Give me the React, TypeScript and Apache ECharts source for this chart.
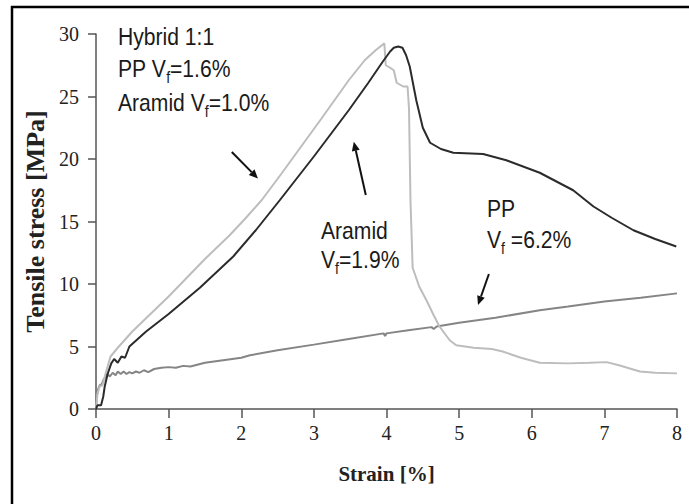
import React, { useEffect, useRef } from "react";
import * as echarts from "echarts";

// Hybrid 1:1 (light grey curve)
const hybridX = [0, 0.02, 0.05, 0.09, 0.14, 0.2, 0.3, 0.5, 0.75, 1.0, 1.25, 1.5, 1.84, 2.05, 2.28, 2.55, 2.8, 3.1, 3.48, 3.7, 3.85, 3.97, 3.99, 4.05, 4.1, 4.14, 4.23, 4.29, 4.31, 4.33, 4.36, 4.45, 4.55, 4.65, 4.73, 4.87, 4.96, 5.2, 5.45, 5.6, 5.85, 6.11, 6.5, 6.8, 7.03, 7.2, 7.49, 7.7, 8.0];
const hybridY = [0, 1.2, 1.8, 1.9, 3.0, 4.2, 4.9, 6.2, 7.6, 9.0, 10.5, 12.0, 13.9, 15.2, 16.7, 18.8, 20.8, 23.2, 26.3, 27.9, 28.7, 29.25, 27.5, 27.3, 27.1, 26.1, 25.8, 25.8, 24.0, 16.7, 11.3, 9.8, 8.7, 7.5, 6.6, 5.5, 5.1, 4.9, 4.8, 4.6, 4.1, 3.7, 3.65, 3.7, 3.75, 3.5, 3.0, 2.9, 2.85];

// Aramid Vf=1.9% (dark curve)
const aramidX = [0, 0.02, 0.07, 0.1, 0.12, 0.16, 0.21, 0.25, 0.3, 0.35, 0.4, 0.46, 0.69, 1.0, 1.43, 1.89, 2.2, 2.53, 3.0, 3.48, 3.75, 3.95, 4.05, 4.1, 4.16, 4.22, 4.27, 4.32, 4.41, 4.5, 4.6, 4.75, 4.92, 5.33, 5.65, 6.11, 6.57, 6.85, 7.1, 7.4, 7.7, 7.99];
const aramidY = [0, 0.3, 0.3, 1.0, 1.8, 2.8, 3.65, 4.0, 3.7, 4.2, 4.1, 5.0, 6.2, 7.6, 9.7, 12.2, 14.3, 16.7, 20.2, 23.9, 26.1, 27.8, 28.6, 28.9, 29.0, 28.9, 28.3, 27.4, 24.7, 22.5, 21.3, 20.8, 20.5, 20.4, 19.9, 18.9, 17.5, 16.2, 15.3, 14.3, 13.6, 13.0];

// PP Vf=6.2% (medium grey curve)
const ppX = [0, 0.01, 0.03, 0.05, 0.08, 0.1, 0.13, 0.16, 0.19, 0.23, 0.27, 0.3, 0.34, 0.38, 0.42, 0.46, 0.5, 0.55, 0.6, 0.66, 0.72, 0.8, 0.9, 1.0, 1.1, 1.2, 1.3, 1.5, 1.75, 2.0, 2.12, 2.5, 3.0, 3.48, 3.96, 3.98, 4.0, 4.3, 4.62, 4.65, 4.69, 5.0, 5.5, 6.11, 6.5, 7.0, 7.5, 8.0];
const ppY = [0, 1.0, 1.6, 1.9, 2.0, 2.3, 2.6, 2.8, 2.6, 2.9, 2.7, 3.0, 2.8, 3.0, 2.8, 2.95, 2.85, 3.0, 2.9, 3.1, 2.95, 3.2, 3.3, 3.35, 3.3, 3.45, 3.4, 3.7, 3.9, 4.1, 4.3, 4.7, 5.15, 5.6, 6.05, 5.85, 6.05, 6.3, 6.55, 6.4, 6.6, 6.9, 7.3, 7.9, 8.2, 8.6, 8.9, 9.25];

// Arrow annotations in data coordinates
const arrows = [
  { from: [1.87, 20.56], to: [2.23, 18.44] },
  { from: [3.715, 17.12], to: [3.55, 21.38] },
  { from: [5.41, 10.8], to: [5.26, 8.32] },
];

type Part = [string, "n" | "s"];
const labels: { x: number; base: number; parts: Part[] }[] = [
  { x: 118, base: 45, parts: [["Hybrid 1:1", "n"]] },
  { x: 118, base: 77, parts: [["PP V", "n"], ["f", "s"], ["=1.6%", "n"]] },
  { x: 118, base: 111, parts: [["Aramid V", "n"], ["f", "s"], ["=1.0%", "n"]] },
  { x: 321, base: 239, parts: [["Aramid", "n"]] },
  { x: 321, base: 268, parts: [["V", "n"], ["f", "s"], ["=1.9%", "n"]] },
  { x: 487, base: 217, parts: [["PP", "n"]] },
  { x: 487, base: 248, parts: [["V", "n"], ["f", "s"], [" =6.2%", "n"]] },
];

const SANS = '"Liberation Sans", Arial, sans-serif';
const SERIF = '"Liberation Serif", "Times New Roman", serif';

function zip(xs: number[], ys: number[]) {
  return xs.map((x, i) => [x, ys[i]]);
}

export default function App() {
  const ref = useRef<HTMLDivElement>(null);
  useEffect(() => {
    const el = ref.current!;
    const chart = echarts.init(el, null, { renderer: "svg" });
    chart.setOption({
      animation: false,
      backgroundColor: "#ffffff",
      grid: { left: 96, right: 12, top: 34, bottom: 95 },
      xAxis: {
        type: "value",
        min: 0,
        max: 8,
        interval: 1,
        name: "Strain [%]",
        nameLocation: "middle",
        nameGap: 54,
        nameTextStyle: { fontFamily: SERIF, fontWeight: "bold", fontSize: 21, color: "#222" },
        axisLine: { lineStyle: { color: "#555", width: 1.5 } },
        axisTick: { length: 9, lineStyle: { color: "#555", width: 1.5 } },
        axisLabel: { margin: 14, fontFamily: SERIF, fontSize: 20, color: "#222" },
        splitLine: { show: false },
      },
      yAxis: {
        type: "value",
        min: 0,
        max: 30,
        interval: 5,
        name: "Tensile stress [MPa]",
        nameLocation: "middle",
        nameGap: 48,
        nameTextStyle: { fontFamily: SERIF, fontWeight: "bold", fontSize: 26, color: "#222" },
        axisLine: { show: true, lineStyle: { color: "#555", width: 1.5 } },
        axisTick: { show: true, length: 8, lineStyle: { color: "#555", width: 1.5 } },
        axisLabel: { margin: 17, fontFamily: SERIF, fontSize: 20, color: "#222" },
        splitLine: { show: false },
      },
      series: [
        { type: "line", data: zip(ppX, ppY), showSymbol: false, symbol: "none", lineStyle: { color: "#858585", width: 2 }, z: 2 },
        { type: "line", data: zip(hybridX, hybridY), showSymbol: false, symbol: "none", lineStyle: { color: "#bdbdbd", width: 2 }, z: 3 },
        { type: "line", data: zip(aramidX, aramidY), showSymbol: false, symbol: "none", lineStyle: { color: "#2b2b2b", width: 2 }, z: 4 },
      ],
    });

    const graphics: any[] = [];
    // outer frame (top and left edges)
    graphics.push({ type: "line", shape: { x1: 11, y1: 7, x2: 689, y2: 7 }, style: { stroke: "#000", lineWidth: 2.5 } });
    graphics.push({ type: "line", shape: { x1: 12, y1: 6, x2: 12, y2: 504 }, style: { stroke: "#000", lineWidth: 2.5 } });

    arrows.forEach((a) => {
      const p0 = chart.convertToPixel({ gridIndex: 0 }, a.from) as number[];
      const p1 = chart.convertToPixel({ gridIndex: 0 }, a.to) as number[];
      const dx = p1[0] - p0[0];
      const dy = p1[1] - p0[1];
      const len = Math.sqrt(dx * dx + dy * dy);
      const ux = dx / len;
      const uy = dy / len;
      const hl = 9;
      const hw = 4;
      const bx = p1[0] - ux * hl;
      const by = p1[1] - uy * hl;
      graphics.push({ type: "line", shape: { x1: p0[0], y1: p0[1], x2: bx, y2: by }, style: { stroke: "#111", lineWidth: 2 } });
      graphics.push({
        type: "polygon",
        shape: { points: [[p1[0], p1[1]], [bx - uy * hw, by + ux * hw], [bx + uy * hw, by - ux * hw]] },
        style: { fill: "#111" },
      });
    });

    const ctx = document.createElement("canvas").getContext("2d")!;
    const NORMAL = 24;
    const SUB = 16;
    const SX = 0.88;
    labels.forEach((lab) => {
      let cx = lab.x;
      lab.parts.forEach(([txt, kind]) => {
        const size = kind === "s" ? SUB : NORMAL;
        ctx.font = `${size}px ${SANS}`;
        const w = ctx.measureText(txt).width * SX;
        const base = kind === "s" ? lab.base + 6 : lab.base;
        graphics.push({
          type: "text",
          x: cx,
          y: base - 0.35 * size,
          scaleX: SX,
          style: { text: txt, font: `${size}px ${SANS}`, fill: "#1a1a1a", align: "left", verticalAlign: "middle" },
        });
        cx += w;
      });
    });

    chart.setOption({ graphic: graphics });
    return () => chart.dispose();
  }, []);
  return <div ref={ref} style={{ position: "fixed", left: 0, top: 0, width: 689, height: 504 }} />;
}
